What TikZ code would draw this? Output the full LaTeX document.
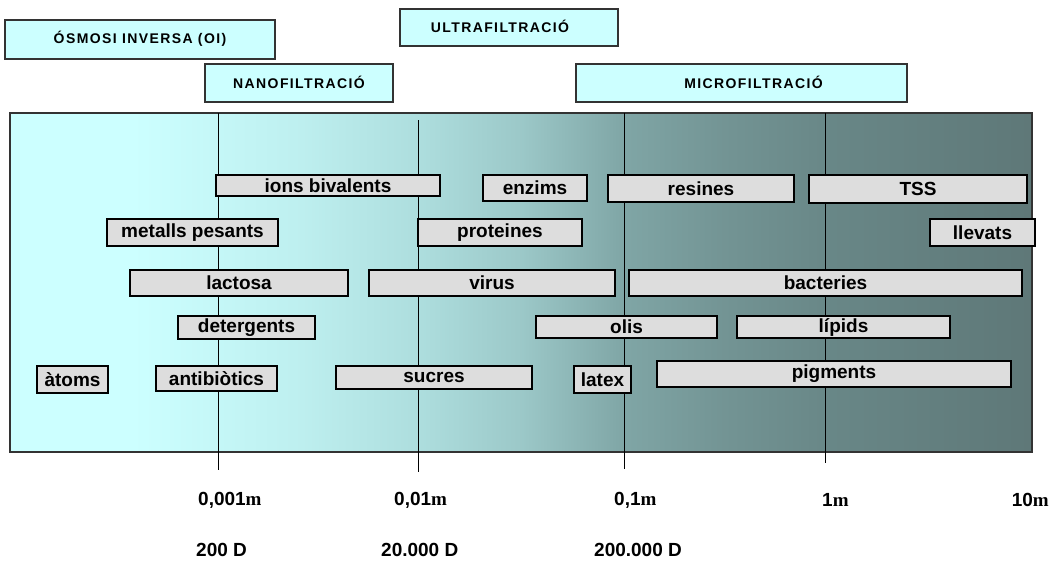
\documentclass[tikz,border=0pt]{standalone}
\usepackage{fontspec}
\setmainfont{Liberation Sans}
\newfontfamily\titolfont[LetterSpace=10]{Liberation Sans}
\newfontfamily\serifm{Liberation Serif}
\usetikzlibrary{calc}

\definecolor{cianclar}{HTML}{CCFFFF}
\definecolor{grisclar}{HTML}{DDDDDD}
\definecolor{vora}{HTML}{333333}

% degradat del fons (25bp = esquerra, 75bp = dreta)
\pgfdeclarehorizontalshading{degradat}{100bp}{%
  rgb(0bp)=(0.80,1,1); rgb(31bp)=(0.80,1,1); rgb(39bp)=(0.745,0.94,0.94);
  rgb(45bp)=(0.68,0.87,0.87); rgb(50bp)=(0.61,0.785,0.785); rgb(55bp)=(0.50,0.65,0.65);
  rgb(60bp)=(0.45,0.58,0.58); rgb(65bp)=(0.41,0.53,0.53); rgb(75bp)=(0.37,0.47,0.47);
  rgb(100bp)=(0.37,0.47,0.47)}

\tikzset{
  titol/.style={draw=vora,line width=1.3pt,fill=cianclar,inner sep=0pt,
    font=\titolfont\bfseries\fontsize{14}{16}\selectfont},
  caixa/.style={draw=black,line width=1.1pt,fill=grisclar,inner sep=0pt,
    font=\bfseries\fontsize{19}{21}\selectfont},
  etiq/.style={anchor=west,inner sep=0pt,font=\bfseries\fontsize{19}{21}\selectfont},
  eix/.style={line width=1pt,black}
}

% caixa entre (x1,y1) i (x2,y2)
\newcommand{\caixa}[6]{\node[caixa,minimum width=#3-#1,minimum height=#4-#2]
  (#5) at ({(#1+#3)/2},{(#2+#4)/2}) {#6};}
% rectangle de proces, amb el text desplacat #7
\newcommand{\titol}[7]{\draw[titol] (#1,#2) rectangle (#3,#4);
  \node[font=\titolfont\bfseries\fontsize{14}{16}\selectfont,inner sep=0pt]
  (#5) at ({(#1+#3)/2+#7},{(#2+#4)/2-1}) {#6};}

\begin{document}
\begin{tikzpicture}[x=1pt,y=-1pt]
\useasboundingbox (0,0) rectangle (1051,560);

% processos
\titol{5}{20}{275}{59}{oi}{ÓSMOSI INVERSA (OI)}{0}
\titol{400}{9}{618}{46}{uf}{ULTRAFILTRACIÓ}{-9}
\titol{205}{64}{393}{102}{nf}{NANOFILTRACIÓ}{0}
\titol{576}{64}{907}{102}{mf}{MICROFILTRACIÓ}{12}

% fons
\shade[shading=degradat] (10,113) rectangle (1032,452);
\draw[vora,line width=1.3pt] (10,113) rectangle (1032,452);

% escala
\foreach \x/\ya/\yb in {218/113/470, 418/120/472, 624/113/469, 825/113/463}
  \draw[eix] (\x,\ya) -- (\x,\yb);

% fila 1
\caixa{216}{175}{440}{196}{ions}{ions bivalents}
\caixa{483}{175}{587}{201}{enzims}{enzims}
\caixa{608}{175}{794}{202}{resines}{resines}
\caixa{809}{175}{1027}{203}{tss}{TSS}
% fila 2
\caixa{107}{219}{278}{246}{metalls}{metalls pesants}
\caixa{418}{219}{582}{246}{proteines}{proteines}
\caixa{930}{219}{1035}{246}{llevats}{llevats}
% fila 3
\caixa{130}{270}{348}{296}{lactosa}{lactosa}
\caixa{369}{270}{615}{296}{virus}{virus}
\caixa{629}{270}{1022}{296}{bacteries}{bacteries}
% fila 4
\caixa{178}{316}{315}{339}{detergents}{detergents}
\caixa{536}{316}{717}{338}{olis}{olis}
\caixa{737}{316}{950}{338}{lipids}{lípids}
% fila 5
\caixa{37}{366}{108}{393}{atoms}{àtoms}
\caixa{156}{366}{277}{391}{antibiotics}{antibiòtics}
\caixa{336}{366}{532}{389}{sucres}{sucres}
\caixa{574}{366}{631}{393}{latex}{latex}
\caixa{657}{361}{1011}{387}{pigments}{pigments}

% etiquetes de mida
\node[etiq] (m1) at (198,500) {0,001{\serifm m}};
\node[etiq] (m2) at (394,500) {0,01{\serifm m}};
\node[etiq] (m3) at (614,500) {0,1{\serifm m}};
\node[etiq] (m4) at (822,500) {1{\serifm m}};
\node[etiq,anchor=east] (m5) at (1049,500) {10{\serifm m}};
\node[etiq] (d1) at (196,550) {200 D};
\node[etiq] (d2) at (381,550) {20.000 D};
\node[etiq] (d3) at (594,550) {200.000 D};

\end{tikzpicture}
\end{document}
